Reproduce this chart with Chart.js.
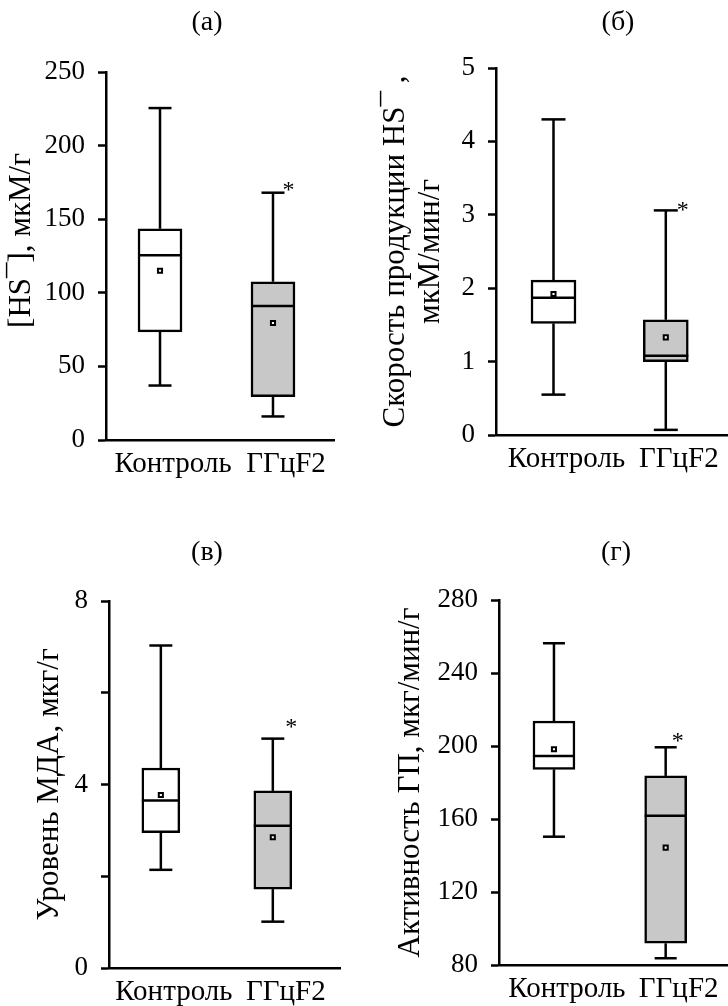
<!DOCTYPE html>
<html>
<head>
<meta charset="utf-8">
<script src="https://cdn.jsdelivr.net/npm/chart.js@4.4.0/dist/chart.umd.min.js"></script>
<style>
  body { margin: 0; background: #fff; width: 728px; height: 1006px; position: relative; overflow: hidden; }
  .panel { position: absolute; }
</style>
</head>
<body>
<div class="panel" style="left:0;top:0"><canvas id="pA" width="364" height="500"></canvas></div>
<div class="panel" style="left:364px;top:0"><canvas id="pB" width="364" height="500"></canvas></div>
<div class="panel" style="left:0;top:500px"><canvas id="pV" width="364" height="506"></canvas></div>
<div class="panel" style="left:364px;top:500px"><canvas id="pG" width="364" height="506"></canvas></div>
<script>
// --- DATA ---
const categories = ['Контроль', 'ГГцF2'];
const xPos = [1, 2];

// (а) [HS-], мкМ/г
const hsMin  = [37, 16];
const hsQ1   = [73.5, 29.5];
const hsMed  = [125.5, 91];
const hsQ3   = [143.5, 107.5];
const hsMax  = [225.5, 168];
const hsMean = [115, 79.5];
const hsTicks = [0, 50, 100, 150, 200, 250];

// (б) скорость продукции HS-, мкМ/мин/г
const rateMin  = [0.55, 0.07];
const rateQ1   = [1.52, 1.0];
const rateMed  = [1.87, 1.08];
const rateQ3   = [2.11, 1.57];
const rateMax  = [4.3, 3.06];
const rateMean = [1.92, 1.33];
const rateTicks = [0, 1, 2, 3, 4, 5];

// (в) МДА, мкг/г
const mdaMin  = [2.14, 1.01];
const mdaQ1   = [2.95, 1.72];
const mdaMed  = [3.65, 3.1];
const mdaQ3   = [4.36, 3.86];
const mdaMax  = [7.03, 5.0];
const mdaMean = [3.77, 2.85];
const mdaTicks = [0, 2, 4, 6, 8];
const mdaTickLabels = [0, 4, 8];

// (г) ГП, мкг/мин/г
const gpMin  = [150.3, 83.7];
const gpQ1   = [187.2, 91.9];
const gpMed  = [194.5, 161.8];
const gpQ3   = [213.7, 183.6];
const gpMax  = [256.3, 199.3];
const gpMean = [198.2, 144.3];
const gpTicks = [80, 120, 160, 200, 240, 280];

const boxFill = ['#ffffff', '#c8c8c8'];
const FONT = "'Liberation Serif', 'Times New Roman', serif";
const LW = 2.5;

// --- PANEL BUILDER ---
function makePanel(id, p) {
  // whiskers, caps, medians, asterisk, panel letter
  const boxPlot = {
    id: 'boxPlot',
    afterDatasetDraw(chart, args) {
      if (args.meta.type !== 'bar') return;
      const { ctx, scales: { x, y } } = chart;
      ctx.save();
      ctx.strokeStyle = '#000';
      ctx.lineWidth = LW;
      const seg = (x1, y1, x2, y2) => { ctx.beginPath(); ctx.moveTo(x1, y1); ctx.lineTo(x2, y2); ctx.stroke(); };
      xPos.forEach((v, i) => {
        const cx = x.getPixelForValue(v);
        const hb = p.boxW / 2, hc = p.capW / 2;
        const yMax = y.getPixelForValue(p.max[i]), yMin = y.getPixelForValue(p.min[i]);
        seg(cx, y.getPixelForValue(p.q3[i]), cx, yMax);
        seg(cx - hc, yMax, cx + hc, yMax);
        seg(cx, y.getPixelForValue(p.q1[i]), cx, yMin);
        seg(cx - hc, yMin, cx + hc, yMin);
        const ym = y.getPixelForValue(p.med[i]);
        seg(cx - hb, ym, cx + hb, ym);
      });
      ctx.restore();
    },
    afterDraw(chart) {
      const { ctx, scales: { x, y } } = chart;
      ctx.save();
      ctx.fillStyle = '#000';
      // asterisk next to the upper whisker of ГГцF2
      ctx.font = `24px ${FONT}`;
      ctx.textAlign = 'center';
      ctx.textBaseline = 'middle';
      const sx = x.getPixelForValue(xPos[1]) + p.capW / 2 + p.star[0];
      const sy = y.getPixelForValue(p.max[1]) + p.star[1];
      ctx.fillText('*', sx, sy + 3);
      // panel letter
      ctx.font = `28px ${FONT}`;
      ctx.fillText(p.label, p.labelAt[0], p.labelAt[1]);
      ctx.restore();
    }
  };

  return new Chart(document.getElementById(id), {
    type: 'scatter',
    data: {
      datasets: [
        {
          type: 'scatter',
          order: 0,
          data: xPos.map((v, i) => ({ x: v, y: p.mean[i] })),
          pointStyle: 'rect',
          pointRadius: 2.9,
          borderWidth: 2,
          borderColor: '#000',
          backgroundColor: '#fff'
        },
        {
          type: 'bar',
          order: 1,
          data: xPos.map((v, i) => ({ x: v, y: [p.q1[i], p.q3[i]] })),
          backgroundColor: boxFill,
          borderColor: '#000',
          borderWidth: LW,
          borderSkipped: false,
          barThickness: p.boxW
        }
      ]
    },
    options: {
      responsive: false,
      animation: false,
      devicePixelRatio: 1,
      layout: { autoPadding: false, padding: { left: 0, right: p.padR, top: p.padT, bottom: p.padB } },
      plugins: { legend: { display: false }, tooltip: { enabled: false } },
      scales: {
        x: {
          type: 'linear',
          offset: false,
          bounds: 'data',
          min: p.xRange[0],
          max: p.xRange[1],
          afterBuildTicks: s => { s.ticks = xPos.map(v => ({ value: v })); },
          afterFit: s => { s.height = p.xH; },
          ticks: {
            callback: v => categories[xPos.indexOf(v)],
            labelOffset: 13,
            padding: 7,
            maxRotation: 0,
            autoSkip: false,
            font: { family: FONT, size: 29 },
            color: '#000'
          },
          grid: { display: false, drawTicks: false, offset: false },
          border: { display: true, color: '#000', width: LW }
        },
        y: {
          min: p.ticks[0],
          max: p.ticks[p.ticks.length - 1],
          beginAtZero: false,
          afterBuildTicks: s => { s.ticks = p.ticks.map(v => ({ value: v })); },
          afterFit: s => { s.width = p.yW; },
          ticks: {
            callback: v => (p.tickLabels.includes(v) ? String(v) : ''),
            padding: 13,
            font: { family: FONT, size: 27 },
            color: '#000'
          },
          grid: { display: true, drawOnChartArea: false, drawTicks: true, tickLength: 8, tickWidth: LW, tickColor: '#000' },
          border: { display: true, color: '#000', width: LW },
          title: {
            display: true,
            text: p.title,
            color: '#000',
            font: { family: FONT, size: 31, lineHeight: 1.13 },
            padding: { top: p.titlePad, bottom: 0 }
          }
        }
      }
    },
    plugins: [boxPlot]
  });
}

makePanel('pA', {
  min: hsMin, q1: hsQ1, med: hsMed, q3: hsQ3, max: hsMax, mean: hsMean,
  ticks: hsTicks, tickLabels: hsTicks,
  title: '    [HS¯], мкМ/г', titlePad: 4,
  label: '(а)', labelAt: [207, 23],
  yW: 106, padR: 30, padT: 72, padB: 10, xH: 50, xRange: [0.522, 2.54],
  boxW: 44, capW: 23, star: [4, -5]
});

makePanel('pB', {
  min: rateMin, q1: rateQ1, med: rateMed, q3: rateQ3, max: rateMax, mean: rateMean,
  ticks: rateTicks, tickLabels: rateTicks,
  title: ['Скорость продукции HS¯ ,', 'мкМ/мин/г'], titlePad: 14,
  label: '(б)', labelAt: [254, 23],
  yW: 132, padR: 0, padT: 68, padB: 15, xH: 50, xRange: [0.488, 2.554],
  boxW: 45, capW: 24, star: [5, -3]
});

makePanel('pV', {
  min: mdaMin, q1: mdaQ1, med: mdaMed, q3: mdaQ3, max: mdaMax, mean: mdaMean,
  ticks: mdaTicks, tickLabels: mdaTickLabels,
  title: 'Уровень МДА, мкг/г', titlePad: 32,
  label: '(в)', labelAt: [207, 53],
  yW: 109, padR: 24, padT: 101, padB: 0, xH: 38, xRange: [0.537, 2.6],
  boxW: 38, capW: 23, star: [7, -14]
});

makePanel('pG', {
  min: gpMin, q1: gpQ1, med: gpMed, q3: gpQ3, max: gpMax, mean: gpMean,
  ticks: gpTicks, tickLabels: gpTicks,
  title: 'Активность ГП, мкг/мин/г', titlePad: 29,
  label: '(г)', labelAt: [252, 53],
  yW: 135, padR: 1, padT: 100, padB: 0, xH: 41, xRange: [0.508, 2.549],
  boxW: 42, capW: 22, star: [1, -9]
});
</script>
</body>
</html>
